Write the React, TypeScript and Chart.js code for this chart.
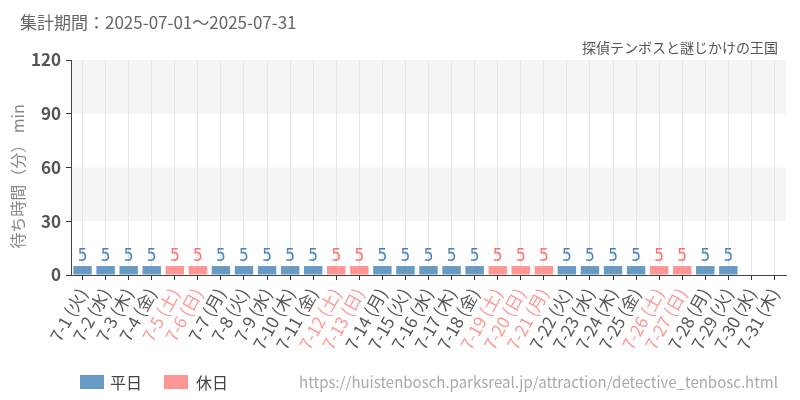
import React, { useEffect, useRef } from "react";
import { Chart, registerables } from "chart.js";

Chart.register(...registerables);

const dates = [
  "7-1", "7-2", "7-3", "7-4", "7-5", "7-6", "7-7", "7-8", "7-9", "7-10",
  "7-11", "7-12", "7-13", "7-14", "7-15", "7-16", "7-17", "7-18", "7-19", "7-20",
  "7-21", "7-22", "7-23", "7-24", "7-25", "7-26", "7-27", "7-28", "7-29", "7-30", "7-31",
];
const weekdays = [
  "火", "水", "木", "金", "土", "日", "月", "火", "水", "木",
  "金", "土", "日", "月", "火", "水", "木", "金", "土", "日",
  "月", "火", "水", "木", "金", "土", "日", "月", "火", "水", "木",
];
const holidays = [
  false, false, false, false, true, true, false, false, false, false,
  false, true, true, false, false, false, false, false, true, true,
  true, false, false, false, false, true, true, false, false, false, false,
];
const waits: (number | null)[] = [
  5, 5, 5, 5, 5, 5, 5, 5, 5, 5,
  5, 5, 5, 5, 5, 5, 5, 5, 5, 5,
  5, 5, 5, 5, 5, 5, 5, 5, 5, null, null,
];
const yTicks = [0, 30, 60, 90, 120];
const yTitle = "待ち時間（分） min";

const BLUE = "rgb(104,155,196)";
const PINK = "rgb(255,150,150)";
const BLUE_TXT = "rgb(72,130,188)";
const PINK_TXT = "rgb(255,110,110)";
const JP = "'Noto Sans CJK JP', 'Noto Sans', sans-serif";

const bandsPlugin = {
  id: "bands",
  beforeDraw(chart: any) {
    const { ctx, chartArea, scales } = chart;
    const y = scales.y;
    ctx.save();
    ctx.fillStyle = "#f5f5f5";
    [[30, 60], [90, 120]].forEach(([a, b]) => {
      const top = y.getPixelForValue(b);
      const bot = y.getPixelForValue(a);
      ctx.fillRect(chartArea.left, top, chartArea.right - chartArea.left, bot - top);
    });
    ctx.restore();
  },
  afterDraw(chart: any) {
    const { ctx, chartArea } = chart;
    ctx.save();
    ctx.translate(18, (chartArea.top + chartArea.bottom) / 2 + 9);
    ctx.rotate(-Math.PI / 2);
    ctx.font = `16px ${JP}`;
    ctx.fillStyle = "#888";
    ctx.textAlign = "center";
    ctx.textBaseline = "middle";
    ctx.fillText(yTitle, 0, 0);
    ctx.restore();
  },
};

const labelPlugin = {
  id: "barLabels",
  afterDatasetsDraw(chart: any) {
    const { ctx } = chart;
    const meta = chart.getDatasetMeta(0);
    ctx.save();
    ctx.font = "17px 'DejaVu Sans Condensed', 'Liberation Sans Narrow', 'DejaVu Sans', sans-serif";
    try { (ctx as any).fontStretch = "condensed"; } catch (e) {}
    ctx.textAlign = "center";
    ctx.textBaseline = "bottom";
    meta.data.forEach((bar: any, i: number) => {
      const v = waits[i];
      if (v === null || v === undefined) return;
      ctx.fillStyle = holidays[i] ? PINK_TXT : BLUE_TXT;
      ctx.fillText(String(v), bar.x, bar.y - 1);
    });
    ctx.restore();
  },
};

export default function App() {
  const ref = useRef<HTMLCanvasElement>(null);
  useEffect(() => {
    if (!ref.current) return;
    const chart = new Chart(ref.current, {
      type: "bar",
      data: {
        labels: dates.map((d, i) => `${d} (${weekdays[i]})`),
        datasets: [
          {
            data: waits,
            backgroundColor: holidays.map((h) => (h ? PINK : BLUE)),
            barPercentage: 1,
            categoryPercentage: 0.8,
          },
        ],
      },
      options: {
        responsive: false,
        animation: false,
        layout: { padding: { left: 0, top: 60, right: 14, bottom: 0 } },
        plugins: { legend: { display: false }, tooltip: { enabled: false } },
        scales: {
          x: {
            afterFit(scale: any) {
              scale.height = 125;
            },
            grid: {
              offset: false,
              color: "#e6e6e6",
              tickColor: "#333",
              tickLength: 5,
            },
            border: { color: "#444" },
            ticks: {
              autoSkip: false,
              minRotation: 61,
              maxRotation: 61,
              padding: 5,
              font: { family: JP, size: 17 },
              color: (ctx: any) => (holidays[ctx.index] ? PINK : "#555"),
            },
          },
          y: {
            min: 0,
            max: 120,
            afterFit(scale: any) {
              scale.width = 71;
            },
            afterBuildTicks(scale: any) {
              scale.ticks = yTicks.map((v) => ({ value: v }));
            },
            grid: {
              color: "rgba(0,0,0,0)",
              tickColor: "#333",
              tickLength: 5,
            },
            border: { color: "#444" },
            ticks: {
              padding: 5,
              font: { family: JP, size: 17, weight: "bold" },
              color: "#555",
            },
            title: { display: false },
          },
        },
      },
      plugins: [bandsPlugin, labelPlugin],
    } as any);
    return () => chart.destroy();
  }, []);

  const abs = (o: React.CSSProperties): React.CSSProperties => ({ position: "absolute", whiteSpace: "nowrap", fontFamily: JP, ...o });

  return (
    <div style={{ position: "absolute", left: 0, top: 0, width: 800, height: 400, background: "#fff" }}>
      <canvas ref={ref} width={800} height={400} style={{ position: "absolute", left: 0, top: 0 }} />
      <div style={abs({ left: 20, top: 12, fontSize: 17, lineHeight: "20px", color: "#666" })}>
        集計期間：2025-07-01～2025-07-31
      </div>
      <div style={abs({ right: 22, top: 37, fontSize: 14, lineHeight: "20px", color: "#555" })}>
        探偵テンボスと謎じかけの王国
      </div>
      <div style={abs({ left: 80, top: 375, width: 24, height: 14, background: BLUE })} />
      <div style={abs({ left: 110, top: 372, fontSize: 16, lineHeight: "20px", color: "#444" })}>平日</div>
      <div style={abs({ left: 164, top: 375, width: 24, height: 14, background: PINK })} />
      <div style={abs({ left: 196, top: 372, fontSize: 16, lineHeight: "20px", color: "#444" })}>休日</div>
      <div style={abs({ right: 22, top: 372, fontSize: 15, lineHeight: "20px", color: "#aaa" })}>
        https://huistenbosch.parksreal.jp/attraction/detective_tenbosc.html
      </div>
    </div>
  );
}
